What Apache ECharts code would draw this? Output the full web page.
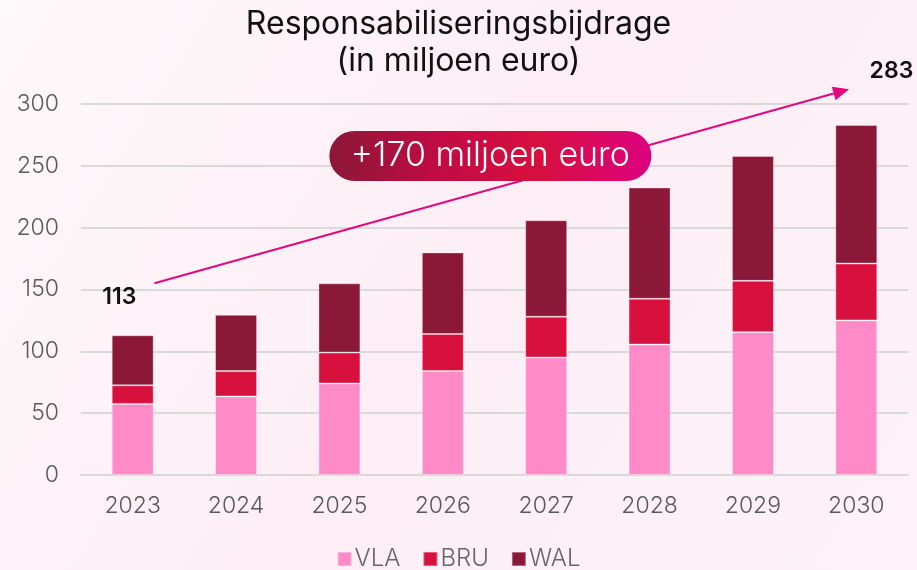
<!DOCTYPE html>
<html>
<head>
<meta charset="utf-8">
<script src="https://cdn.jsdelivr.net/npm/echarts@6/dist/echarts.min.js"></script>
<style>
  html, body { margin: 0; padding: 0; }
  #chart { width: 917px; height: 570px; }
</style>
</head>
<body>
<div id="chart"></div>
<script>
// Yearly contribution per region (million euro)
const years = ['2023', '2024', '2025', '2026', '2027', '2028', '2029', '2030'];
const vla = [57.5, 63.5, 74, 84, 95, 105.5, 115.5, 125];
const bru = [15, 20.5, 25, 30, 33, 37, 41.5, 46];
const wal = [40.5, 45.5, 56, 66, 78, 90, 101, 112];
const seriesNames = ['VLA', 'BRU', 'WAL'];
const yTicks = { min: 0, max: 300, interval: 50 };

// Growth annotation: first and last totals
const startTotal = 113;
const endTotal = 283;
const growthText = '+' + (endTotal - startTotal) + ' miljoen euro';

const FONT = 'Inter, "Noto Sans", sans-serif';
const colors = ['#FF8AC8', '#D7103E', '#8B1838'];

const chart = echarts.init(document.getElementById('chart'));

const barStyle = (c) => ({ color: c, borderColor: 'rgba(255,255,255,0.35)', borderWidth: 1 });

chart.setOption({
  backgroundColor: {
    type: 'linear', x: 0, y: 0, x2: 1, y2: 1,
    colorStops: [
      { offset: 0, color: '#fdf8fa' },
      { offset: 0.5, color: '#fdeef5' },
      { offset: 1, color: '#fdf2f8' }
    ]
  },
  title: {
    text: 'Responsabiliseringsbijdrage\n(in miljoen euro)',
    left: 'center',
    top: 1,
    textStyle: { fontFamily: FONT, fontSize: 32, fontWeight: 400, color: '#111', lineHeight: 37 }
  },
  grid: { left: 81, right: 9, top: 104, bottom: 95 },
  legend: {
    data: seriesNames,
    top: 542,
    left: 'center',
    icon: 'rect',
    itemWidth: 14,
    itemHeight: 14,
    itemGap: 22,
    textStyle: { fontFamily: FONT, fontSize: 24, fontWeight: 300, color: '#666', padding: [0, 0, 0, -2] }
  },
  xAxis: {
    type: 'category',
    data: years,
    axisTick: { show: false },
    axisLine: { lineStyle: { color: '#d9d9d9', width: 2 } },
    axisLabel: { fontFamily: FONT, fontSize: 23, fontWeight: 300, color: '#595959', margin: 20 }
  },
  yAxis: {
    type: 'value',
    min: yTicks.min,
    max: yTicks.max,
    interval: yTicks.interval,
    axisLabel: { fontFamily: FONT, fontSize: 23, fontWeight: 300, color: '#595959', margin: 22 },
    splitLine: { lineStyle: { color: '#d9d9d9', width: 2 } }
  },
  series: [
    { name: 'VLA', type: 'bar', stack: 'total', data: vla, barWidth: '40.6%', itemStyle: barStyle(colors[0]) },
    { name: 'BRU', type: 'bar', stack: 'total', data: bru, itemStyle: barStyle(colors[1]) },
    { name: 'WAL', type: 'bar', stack: 'total', data: wal, itemStyle: barStyle(colors[2]) }
  ]
});

// Place annotation elements relative to the axes
function px(catPos, value) {
  const x0 = chart.convertToPixel({ xAxisIndex: 0 }, 0);
  const x1 = chart.convertToPixel({ xAxisIndex: 0 }, 1);
  const y = chart.convertToPixel({ yAxisIndex: 0 }, value);
  return [x0 + catPos * (x1 - x0), y];
}

const a0 = px(0.21, 155);
const a1 = px(6.93, 312);
const ang = Math.atan2(a1[1] - a0[1], a1[0] - a0[0]);
const head = 16, half = 7;
const hb = [a1[0] - head * Math.cos(ang), a1[1] - head * Math.sin(ang)];
const p1 = [hb[0] + half * Math.sin(ang), hb[1] - half * Math.cos(ang)];
const p2 = [hb[0] - half * Math.sin(ang), hb[1] + half * Math.cos(ang)];

const pillC = px(3.46, 258);
const pillW = 322, pillH = 50;
const lbl113 = px(-0.13, 144);
const lbl283 = px(7.34, 326.5);

chart.setOption({
  graphic: [
    { type: 'line', z: 100, shape: { x1: a0[0], y1: a0[1], x2: hb[0], y2: hb[1] },
      style: { stroke: '#E0097E', lineWidth: 2 } },
    { type: 'polygon', z: 100, shape: { points: [a1, p1, p2] }, style: { fill: '#E0097E' } },
    { type: 'rect', z: 101,
      shape: { x: pillC[0] - pillW / 2, y: pillC[1] - pillH / 2, width: pillW, height: pillH, r: 25 },
      style: {
        fill: {
          type: 'linear', x: 0, y: 0, x2: 1, y2: 0,
          colorStops: [
            { offset: 0, color: '#8B1838' },
            { offset: 0.35, color: '#C30A45' },
            { offset: 0.65, color: '#D7103E' },
            { offset: 1, color: '#DC0080' }
          ]
        }
      } },
    { type: 'text', z: 102, x: pillC[0], y: pillC[1],
      style: { text: growthText, fill: '#fff', font: '300 34px ' + FONT, textAlign: 'center', textVerticalAlign: 'middle' } },
    { type: 'text', z: 102, x: lbl113[0], y: lbl113[1],
      style: { text: String(startTotal), fill: '#111', font: '600 23px ' + FONT, textAlign: 'center', textVerticalAlign: 'middle' } },
    { type: 'text', z: 102, x: lbl283[0], y: lbl283[1],
      style: { text: String(endTotal), fill: '#111', font: '600 23px ' + FONT, textAlign: 'center', textVerticalAlign: 'middle' } }
  ]
});
</script>
</body>
</html>
